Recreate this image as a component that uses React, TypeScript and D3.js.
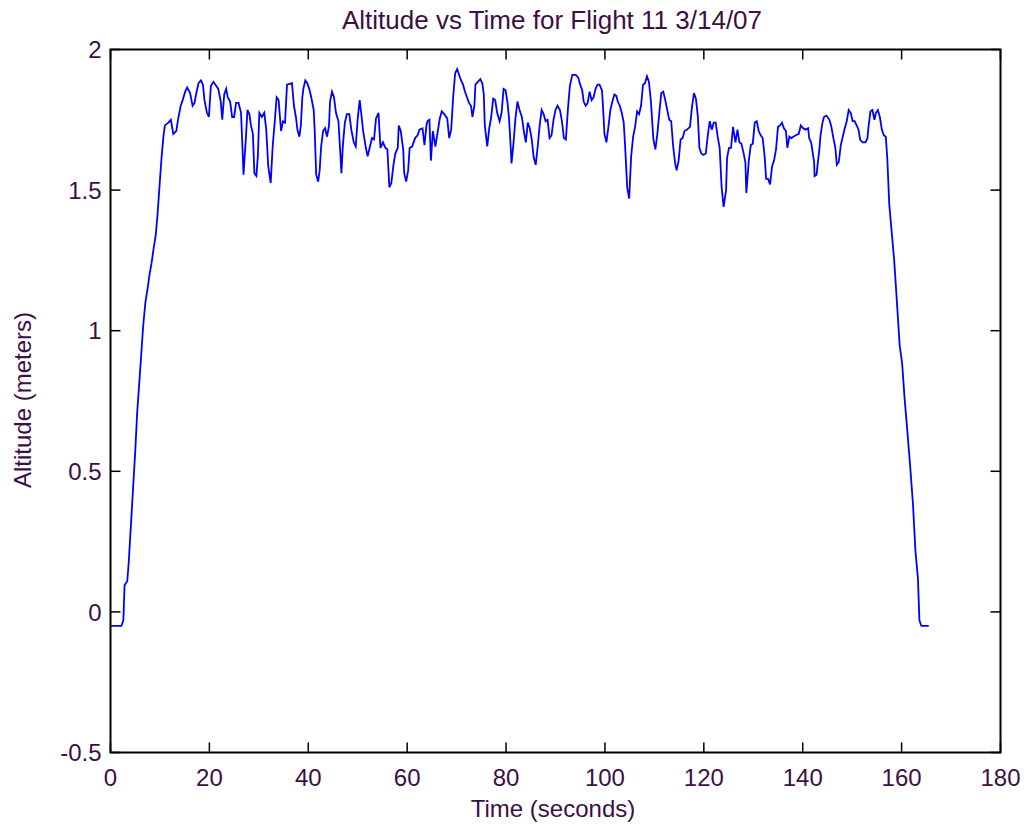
import React from "react";
import * as d3 from "d3";

const timeSec: number[] = [
  0, 2.2, 2.6, 2.85, 3.4, 3.7, 4.2, 4.6, 5.0, 5.4, 5.8, 6.2, 6.6, 7.05, 7.5, 7.9, 8.3, 8.7, 9.15, 9.5, 9.9, 10.3, 10.7, 11.0, 11.7, 12.2, 12.7, 13.3, 13.7, 14.2, 14.6, 15.1, 15.5, 16.1, 16.6, 17.0, 17.3, 17.8, 18.3, 18.7, 19.0, 19.5, 19.9,
  20.3, 20.8, 21.4, 21.8, 22.3, 22.6, 23.0, 23.4, 23.7, 24.2, 24.6, 25.0, 25.4, 25.9, 26.4, 26.6, 26.9, 27.4, 27.7, 28.1, 28.4, 28.8, 29.1, 29.5, 29.8, 30.1, 30.6, 31.1, 31.5, 31.9, 32.4, 32.8, 33.2, 33.6, 34.0, 34.5, 34.9, 35.3, 35.7, 36.7, 37.1, 37.5, 37.8, 38.2, 38.5, 38.8, 39.0, 39.4, 39.8,
  40.2, 40.6, 41.1, 41.3, 41.6, 42.0, 42.3, 42.6, 43.0, 43.4, 43.8, 44.2, 44.4, 44.8, 45.2, 45.6, 46.1, 46.5, 46.7, 47.0, 47.4, 47.8, 48.3, 48.7, 49.2, 49.6, 50.0, 50.4, 50.7, 51.1, 51.6, 52.0, 52.4, 52.9, 53.3, 53.7, 54.2, 54.6, 55.1, 55.6, 56.0, 56.4, 56.8, 57.2, 57.6, 58.1, 58.3, 58.7, 59.2, 59.4, 59.8,
  60.2, 60.5, 61.0, 61.6, 62.1, 62.5, 63.1, 63.5, 63.9, 64.1, 64.5, 64.8, 65.2, 65.7, 66.2, 66.6, 67.0, 67.5, 68.1, 68.5, 68.9, 69.3, 69.7, 70.1, 70.5, 70.9, 71.3, 71.7, 72.1, 72.5, 72.9, 73.2, 73.6, 73.8, 74.3, 74.8, 75.2, 75.5, 75.7, 76.2, 76.6, 77.0, 77.4, 77.8, 78.2, 78.7, 79.1, 79.5, 79.9,
  80.3, 80.6, 80.9, 81.1, 81.5, 81.9, 82.3, 82.8, 83.2, 83.6, 84.0, 84.4, 84.8, 85.2, 85.6, 86.0, 86.4, 86.8, 87.2, 87.6, 88.0, 88.4, 88.8, 89.2, 89.6, 90.0, 90.4, 90.9, 91.3, 91.7, 92.1, 92.5, 92.9, 93.4, 94.1, 94.6, 95.0, 95.4, 95.7, 96.1, 96.5, 96.9, 97.3, 97.7, 98.1, 98.5, 98.9, 99.4, 99.6, 99.9,
  100.3, 100.7, 101.1, 101.5, 101.9, 102.3, 102.6, 103.0, 103.4, 103.8, 104.1, 104.5, 104.9, 105.3, 105.7, 106.1, 106.5, 106.9, 107.3, 107.7, 108.1, 108.5, 108.9, 109.3, 109.8, 110.2, 110.6, 111.0, 111.4, 111.8, 112.2, 112.6, 113.0, 113.4, 113.8, 114.2, 114.5, 114.9, 115.3, 115.7, 116.1, 116.6, 117.2, 117.6, 118.0, 118.4, 118.8, 119.1, 119.5, 119.9,
  120.4, 120.8, 121.2, 121.6, 122.0, 122.4, 122.8, 123.2, 123.6, 124.0, 124.5, 124.7, 125.1, 125.5, 125.9, 126.4, 126.8, 127.2, 127.6, 128.0, 128.4, 128.6, 129.1, 129.5, 129.9, 130.3, 130.7, 131.1, 131.5, 131.9, 132.3, 132.6, 133.0, 133.4, 133.8, 134.2, 134.6, 135.0, 135.4, 135.8, 136.2, 136.6, 136.9, 137.3, 137.7, 138.1, 138.6, 139.2, 139.6,
  140.1, 140.6, 141.1, 141.3, 141.7, 142.0, 142.3, 142.4, 142.8, 143.1, 143.4, 143.6, 144.0, 144.3, 144.8, 145.4, 145.8, 146.2, 146.6, 146.9, 147.3, 147.7, 148.1, 148.5, 148.9, 149.3, 149.7, 150.1, 150.5, 150.9, 151.3, 151.6, 152.1, 152.7, 153.1, 153.3, 153.7, 154.1, 154.5, 154.8, 155.2, 155.6, 156.0, 156.4, 156.8, 157.1, 157.5, 157.9, 158.5, 159.0, 159.6,
  160.1, 160.6, 161.2, 161.7, 162.3, 162.8, 163.3, 163.6, 164.0, 165.5,
];

const altitudeM: number[] = [
  -0.05, -0.05, -0.03, 0.095, 0.11, 0.18, 0.33, 0.45, 0.57, 0.71, 0.81, 0.91, 1.015, 1.10, 1.15, 1.20, 1.24, 1.29, 1.34, 1.41, 1.51, 1.61, 1.69, 1.73, 1.74, 1.75, 1.70, 1.71, 1.755, 1.80, 1.82, 1.85, 1.865, 1.845, 1.80, 1.81, 1.84, 1.88, 1.89, 1.875, 1.82, 1.775, 1.76,
  1.87, 1.885, 1.87, 1.86, 1.815, 1.75, 1.84, 1.86, 1.83, 1.815, 1.76, 1.76, 1.81, 1.81, 1.775, 1.69, 1.555, 1.69, 1.785, 1.77, 1.73, 1.70, 1.56, 1.55, 1.62, 1.775, 1.76, 1.775, 1.715, 1.585, 1.525, 1.655, 1.74, 1.83, 1.82, 1.71, 1.745, 1.74, 1.875, 1.88, 1.80, 1.76, 1.715, 1.69, 1.73, 1.83, 1.86, 1.89, 1.88,
  1.86, 1.83, 1.785, 1.71, 1.555, 1.53, 1.57, 1.655, 1.71, 1.72, 1.69, 1.73, 1.815, 1.85, 1.83, 1.775, 1.745, 1.625, 1.56, 1.66, 1.74, 1.77, 1.77, 1.715, 1.67, 1.655, 1.755, 1.82, 1.775, 1.71, 1.655, 1.62, 1.65, 1.685, 1.68, 1.755, 1.775, 1.65, 1.67, 1.65, 1.645, 1.51, 1.525, 1.585, 1.63, 1.65, 1.73, 1.71, 1.645, 1.56, 1.53,
  1.57, 1.65, 1.655, 1.685, 1.695, 1.715, 1.72, 1.66, 1.73, 1.745, 1.75, 1.605, 1.71, 1.655, 1.71, 1.755, 1.78, 1.77, 1.755, 1.685, 1.715, 1.83, 1.915, 1.93, 1.91, 1.89, 1.875, 1.85, 1.83, 1.81, 1.80, 1.76, 1.80, 1.875, 1.885, 1.895, 1.88, 1.84, 1.73, 1.655, 1.72, 1.76, 1.825, 1.82, 1.775, 1.745, 1.775, 1.86, 1.855,
  1.81, 1.755, 1.665, 1.595, 1.665, 1.755, 1.815, 1.78, 1.76, 1.71, 1.67, 1.74, 1.72, 1.68, 1.615, 1.59, 1.655, 1.73, 1.785, 1.77, 1.745, 1.75, 1.685, 1.695, 1.75, 1.785, 1.80, 1.785, 1.745, 1.685, 1.68, 1.785, 1.87, 1.91, 1.91, 1.90, 1.875, 1.855, 1.815, 1.80, 1.81, 1.85, 1.82, 1.83, 1.86, 1.875, 1.875, 1.855, 1.80, 1.70,
  1.67, 1.725, 1.785, 1.815, 1.84, 1.835, 1.815, 1.80, 1.775, 1.74, 1.65, 1.51, 1.47, 1.62, 1.69, 1.725, 1.78, 1.77, 1.80, 1.875, 1.88, 1.905, 1.885, 1.815, 1.68, 1.645, 1.70, 1.775, 1.845, 1.85, 1.82, 1.785, 1.75, 1.745, 1.655, 1.595, 1.57, 1.605, 1.68, 1.685, 1.71, 1.715, 1.725, 1.795, 1.845, 1.825, 1.76, 1.65, 1.63, 1.625,
  1.63, 1.695, 1.745, 1.715, 1.74, 1.74, 1.69, 1.65, 1.51, 1.44, 1.50, 1.615, 1.65, 1.65, 1.725, 1.67, 1.715, 1.67, 1.665, 1.635, 1.60, 1.49, 1.605, 1.66, 1.665, 1.74, 1.745, 1.71, 1.695, 1.685, 1.62, 1.54, 1.54, 1.52, 1.585, 1.605, 1.645, 1.725, 1.73, 1.74, 1.72, 1.71, 1.65, 1.69, 1.685, 1.69, 1.695, 1.70, 1.73,
  1.72, 1.715, 1.72, 1.685, 1.67, 1.635, 1.60, 1.55, 1.555, 1.605, 1.65, 1.695, 1.74, 1.76, 1.765, 1.75, 1.725, 1.685, 1.65, 1.59, 1.60, 1.66, 1.69, 1.72, 1.745, 1.785, 1.775, 1.745, 1.745, 1.73, 1.715, 1.68, 1.67, 1.67, 1.685, 1.725, 1.78, 1.785, 1.75, 1.775, 1.785, 1.76, 1.715, 1.695, 1.69, 1.615, 1.45, 1.37, 1.25, 1.115, 0.95,
  0.885, 0.76, 0.634, 0.525, 0.383, 0.215, 0.12, -0.03, -0.05, -0.05,
];

const xTicks: number[] = [0, 20, 40, 60, 80, 100, 120, 140, 160, 180];
const yTicks: number[] = [-0.5, 0, 0.5, 1, 1.5, 2];
const yTickLabels: string[] = ["-0.5", "0", "0.5", "1", "1.5", "2"];

const titleText = "Altitude vs Time for Flight 11 3/14/07";
const xLabelText = "Time (seconds)";
const yLabelText = "Altitude (meters)";

export default function App() {
  const W = 1026;
  const H = 829;
  const left = 110.5;
  const right = 1000.5;
  const top = 49.5;
  const bottom = 752.5;
  const x = d3.scaleLinear().domain([0, 180]).range([left, right]);
  const y = d3.scaleLinear().domain([-0.5, 2]).range([bottom, top]);
  const pts = timeSec.map((t, i) => [t, altitudeM[i]] as [number, number]);
  const line = d3
    .line<[number, number]>()
    .x((d) => x(d[0]))
    .y((d) => y(d[1]));
  const textColor = "#3c0f46";
  const font = "'Liberation Sans', Arial, sans-serif";
  const fs = 24;
  const tickLen = 10;

  return (
    <svg
      width={W}
      height={H}
      style={{ position: "absolute", left: 0, top: 0, background: "#fff" }}
      fontFamily={font}
    >
      <rect x={0} y={0} width={W} height={H} fill="#fff" />
      <path d={line(pts) || ""} fill="none" stroke="#0000ff" strokeWidth={1.8} />
      {/* box */}
      <rect
        x={left}
        y={top}
        width={right - left}
        height={bottom - top}
        fill="none"
        stroke="#000"
        strokeWidth={2}
      />
      {xTicks.map((t) => (
        <g key={"xt" + t}>
          <line x1={x(t)} x2={x(t)} y1={bottom} y2={bottom - tickLen} stroke="#000" strokeWidth={1.5} />
          <line x1={x(t)} x2={x(t)} y1={top} y2={top + tickLen} stroke="#000" strokeWidth={1.5} />
          <text x={x(t)} y={786} textAnchor="middle" fontSize={fs} fill={textColor}>
            {String(t)}
          </text>
        </g>
      ))}
      {yTicks.map((v, i) => (
        <g key={"yt" + v}>
          <line x1={left} x2={left + tickLen} y1={y(v)} y2={y(v)} stroke="#000" strokeWidth={1.5} />
          <line x1={right} x2={right - tickLen} y1={y(v)} y2={y(v)} stroke="#000" strokeWidth={1.5} />
          <text
            x={left - 9}
            y={y(v)}
            dy="0.36em"
            textAnchor="end"
            fontSize={fs}
            fill={textColor}
          >
            {yTickLabels[i]}
          </text>
        </g>
      ))}
      <text x={552} y={29} textAnchor="middle" fontSize={26} fill={textColor}>
        {titleText}
      </text>
      <text x={553} y={817} textAnchor="middle" fontSize={fs} fill={textColor}>
        {xLabelText}
      </text>
      <text
        transform={`translate(31, 400) rotate(-90)`}
        textAnchor="middle"
        fontSize={fs}
        fill={textColor}
      >
        {yLabelText}
      </text>
    </svg>
  );
}
